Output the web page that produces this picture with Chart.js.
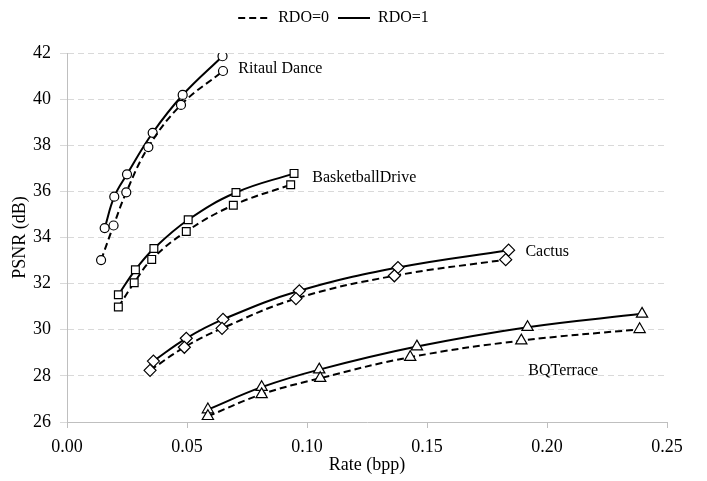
<!DOCTYPE html>
<html>
<head>
<meta charset="utf-8">
<script src="https://cdn.jsdelivr.net/npm/chart.js@4.4.0/dist/chart.umd.min.js"></script>
<style>
  body { margin: 0; background: #fff; }
  canvas { display: block; }
</style>
</head>
<body>
<canvas id="chart" width="707" height="481"></canvas>
<script>
// valores (Rate em bpp, PSNR em dB)
const rdRate0 = [0.0142, 0.0194, 0.0247, 0.0339, 0.0475, 0.0650];
const rdPsnr0 = [33.02, 34.52, 35.96, 37.92, 39.75, 41.22];
const rdRate1 = [0.0157, 0.0197, 0.0250, 0.0357, 0.0482, 0.0648];
const rdPsnr1 = [34.41, 35.77, 36.74, 38.54, 40.18, 41.86];

const bdRate0 = [0.0214, 0.0280, 0.0353, 0.0497, 0.0693, 0.0932];
const bdPsnr0 = [30.99, 32.04, 33.05, 34.26, 35.40, 36.29];
const bdRate1 = [0.0214, 0.0285, 0.0362, 0.0505, 0.0704, 0.0946];
const bdPsnr1 = [31.52, 32.60, 33.52, 34.77, 35.95, 36.78];

const caRate0 = [0.0346, 0.0489, 0.0646, 0.0954, 0.1364, 0.1828];
const caPsnr0 = [28.24, 29.24, 30.06, 31.35, 32.34, 33.04];
const caRate1 = [0.0360, 0.0497, 0.0650, 0.0968, 0.1379, 0.1840];
const caPsnr1 = [28.64, 29.63, 30.45, 31.69, 32.70, 33.45];

const bqRate0 = [0.0587, 0.0811, 0.1055, 0.1430, 0.1893, 0.2386];
const bqPsnr0 = [26.25, 27.20, 27.90, 28.81, 29.53, 30.02];
const bqRate1 = [0.0587, 0.0811, 0.1051, 0.1458, 0.1919, 0.2396];
const bqPsnr1 = [26.54, 27.51, 28.27, 29.27, 30.11, 30.69];

const seqNames = ['Ritaul Dance', 'BasketballDrive', 'Cactus', 'BQTerrace'];
const seqLabelX = [0.0714, 0.1022, 0.1910, 0.1922];
const seqLabelY = [41.30, 36.58, 33.39, 28.24];
const legendNames = ['RDO=0', 'RDO=1'];

const serif = "'Liberation Serif', 'Times New Roman', serif";
const dash = [7, 4];

function pts(xs, ys) {
  return xs.map((x, i) => ({ x: x, y: ys[i] }));
}

function serie(xs, ys, shape, rdo, radius) {
  return {
    data: pts(xs, ys),
    borderColor: '#000',
    borderWidth: 2,
    borderDash: rdo === 0 ? dash : [],
    pointStyle: shape,
    pointRadius: radius,
    pointBackgroundColor: '#fff',
    pointBorderColor: '#000',
    pointBorderWidth: 1.2,
    tension: 0.4,
    fill: false
  };
}

const datasets = [
  serie(rdRate0, rdPsnr0, 'circle', 0, 4.5),
  serie(rdRate1, rdPsnr1, 'circle', 1, 4.5),
  serie(bdRate0, bdPsnr0, 'rect', 0, 5.5),
  serie(bdRate1, bdPsnr1, 'rect', 1, 5.5),
  serie(caRate0, caPsnr0, 'rectRot', 0, 6),
  serie(caRate1, caPsnr1, 'rectRot', 1, 6),
  serie(bqRate0, bqPsnr0, 'triangle', 0, 6.5),
  serie(bqRate1, bqPsnr1, 'triangle', 1, 6.5)
];

// nomes das sequências ao lado das curvas
const seqLabels = {
  id: 'seqLabels',
  afterDatasetsDraw(chart) {
    const ctx = chart.ctx;
    const sx = chart.scales.x, sy = chart.scales.y;
    ctx.save();
    ctx.font = '16px ' + serif;
    ctx.fillStyle = '#000';
    ctx.textAlign = 'left';
    ctx.textBaseline = 'middle';
    for (let i = 0; i < seqNames.length; i++) {
      ctx.fillText(seqNames[i], sx.getPixelForValue(seqLabelX[i]), sy.getPixelForValue(seqLabelY[i]));
    }
    ctx.restore();
  }
};

// espaço extra abaixo da legenda
const legendSpacer = {
  id: 'legendSpacer',
  beforeInit(chart) {
    const origFit = chart.legend.fit;
    chart.legend.fit = function () {
      origFit.bind(chart.legend)();
      this.height += 17;
    };
  }
};

new Chart(document.getElementById('chart'), {
  type: 'line',
  data: { datasets: datasets },
  options: {
    responsive: false,
    animation: false,
    layout: { padding: { top: 1, right: 40, bottom: 0, left: 0 } },
    plugins: {
      tooltip: { enabled: false },
      legend: {
        position: 'top',
        labels: {
          usePointStyle: true,
          pointStyleWidth: 32,
          padding: 9,
          color: '#000',
          font: { family: serif, size: 16 },
          generateLabels: () => legendNames.map((name, i) => ({
            text: name,
            pointStyle: 'line',
            strokeStyle: '#000',
            fillStyle: 'transparent',
            lineWidth: 2,
            lineDash: i === 0 ? dash : [],
            datasetIndex: i
          }))
        }
      }
    },
    scales: {
      x: {
        type: 'linear',
        min: 0,
        max: 0.25,
        afterFit: (s) => { s.height = 59; },
        ticks: {
          stepSize: 0.05,
          padding: 8,
          color: '#000',
          font: { family: serif, size: 18 },
          callback: (v) => v.toFixed(2)
        },
        grid: { drawOnChartArea: false, drawTicks: true, tickLength: 6, color: '#bfbfbf' },
        border: { color: '#bfbfbf', width: 1 },
        title: { display: true, text: 'Rate (bpp)', color: '#000', font: { family: serif, size: 18 }, padding: { top: 2, bottom: 5 } }
      },
      y: {
        min: 26,
        max: 42,
        afterFit: (s) => { s.width = 67; },
        ticks: {
          stepSize: 2,
          padding: 9,
          color: '#000',
          font: { family: serif, size: 18 }
        },
        grid: { color: '#d9d9d9', tickLength: 7, lineWidth: 1 },
        border: { color: '#bfbfbf', width: 1, dash: [6, 4] },
        title: { display: true, text: 'PSNR (dB)', color: '#000', font: { family: serif, size: 18 }, padding: { top: 9, bottom: 0 } }
      }
    }
  },
  plugins: [seqLabels, legendSpacer]
});
</script>
</body>
</html>
